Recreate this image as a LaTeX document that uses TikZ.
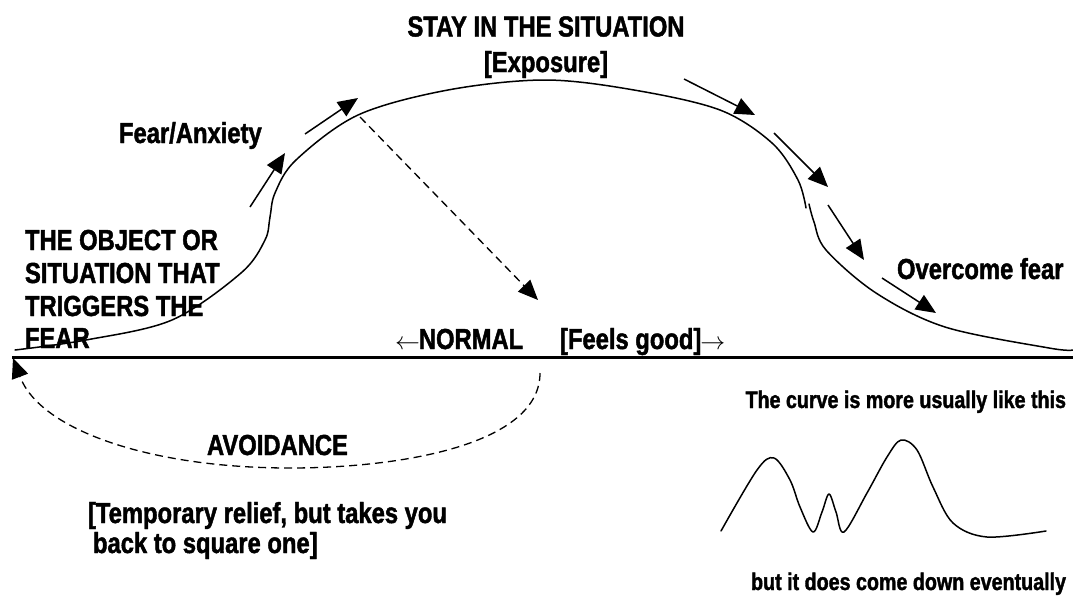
\documentclass[tikz,border=0pt]{standalone}
\usepackage{fontspec}
\setmainfont{Liberation Sans}[FakeStretch=0.82,FakeBold=1.5]
\usetikzlibrary{arrows.meta}
\tikzset{
  lbl/.style={inner sep=0pt, outer sep=0pt, font=\fontsize{29}{33}\selectfont\bfseries},
  smalllbl/.style={inner sep=0pt, outer sep=0pt, font=\fontsize{24}{28}\selectfont\bfseries},
  curveline/.style={line width=1.5pt, line join=round, line cap=round},
  baseln/.style={line width=2.3pt},
  flowarrow/.style={line width=1.5pt, -{Triangle[length=20pt,width=17pt]}},
  dasharrow/.style={line width=1.3pt, dash pattern=on 8pt off 5pt, -{Triangle[length=20pt,width=17pt]}}
}
\begin{document}
\begin{tikzpicture}[x=1pt,y=-1pt]
\useasboundingbox (0,0) rectangle (1073,598);

% baseline
\coordinate (bl) at (12,357.5);
\coordinate (br) at (1073,357.5);
\draw[baseln] (bl) -- (br);

% main curve (rising part and top)
\draw[curveline] plot[smooth, tension=0.55] coordinates {
  (15,350) (86,340) (172,320) (241,273) (265,240) (270,217) (275,193)
  (296,160) (358,115) (448,90) (545,80) (634,90) (720,110) (772,143)
  (798,180) (806,208)};
% main curve (falling part)
\draw[curveline] plot[smooth, tension=0.55] coordinates {
  (809,204) (814,222) (826,250) (876,293) (945,327) (1049,348) (1073,350)};

% flow arrows along the curve
\coordinate (a1s) at (250,207); \coordinate (a1e) at (285,153);
\coordinate (a2s) at (305,134); \coordinate (a2e) at (358,98);
\coordinate (a3s) at (684,79);  \coordinate (a3e) at (755,115);
\coordinate (a4s) at (774,133); \coordinate (a4e) at (828,187);
\coordinate (a5s) at (828,205); \coordinate (a5e) at (864,260);
\coordinate (a6s) at (882,278); \coordinate (a6e) at (936,313);
\draw[flowarrow] (a1s) -- (a1e);
\draw[flowarrow] (a2s) -- (a2e);
\draw[flowarrow] (a3s) -- (a3e);
\draw[flowarrow] (a4s) -- (a4e);
\draw[flowarrow] (a5s) -- (a5e);
\draw[flowarrow] (a6s) -- (a6e);

% dashed drop to normal
\coordinate (ds) at (360,117);
\coordinate (de) at (538,300);
\draw[dasharrow] (ds) -- (de);

% avoidance arc
\coordinate (avs) at (540,373);
\coordinate (avm) at (290,468);
\coordinate (ave) at (13,358);
\draw[dasharrow] (avs) .. controls (540,445) and (400,468) .. (avm)
  .. controls (150,468) and (40,430) .. (ave);

% labels
\node[lbl, anchor=base] (stay) at (546,36.5) {STAY IN THE SITUATION};
\node[lbl, anchor=base] (expo) at (546,72) {[Exposure]};
\node[lbl, anchor=base west] (fear) at (119,143) {Fear/Anxiety};
\node[lbl, anchor=base west] (obj1) at (25,250) {THE OBJECT OR};
\node[lbl, anchor=base west] (obj2) at (25,283) {SITUATION THAT};
\node[lbl, anchor=base west] (obj3) at (25,316) {TRIGGERS THE};
\node[lbl, anchor=base west] (obj4) at (25,348) {FEAR};
\node[lbl, anchor=base west] (normal) at (395,349) {$\leftarrow$\kern-1pt NORMAL};
\node[lbl, anchor=base west] (good) at (560,349) {[Feels good]\kern-1pt$\rightarrow$};
\node[lbl, anchor=base west] (over) at (897,279) {Overcome fear};
\node[lbl, anchor=base west] (avoid) at (207,455) {AVOIDANCE};
\node[lbl, anchor=base west] (temp1) at (88,523) {[Temporary relief, but takes you};
\node[lbl, anchor=base west] (temp2) at (93,553) {back to square one]};
\node[smalllbl, anchor=base east] (usual) at (1066,408) {The curve is more usually like this};
\node[smalllbl, anchor=base east] (down) at (1066,590) {but it does come down eventually};

% the more usual curve
\draw[curveline] plot[smooth, tension=0.55] coordinates {
  (721,531) (757,470) (774,458) (790,480) (800,507) (813,532) (822,512)
  (829,494) (836,512) (844,532) (867,493) (887,457) (901,440) (917,450)
  (933,487) (953,523) (987,537) (1046,531)};
\end{tikzpicture}
\end{document}
